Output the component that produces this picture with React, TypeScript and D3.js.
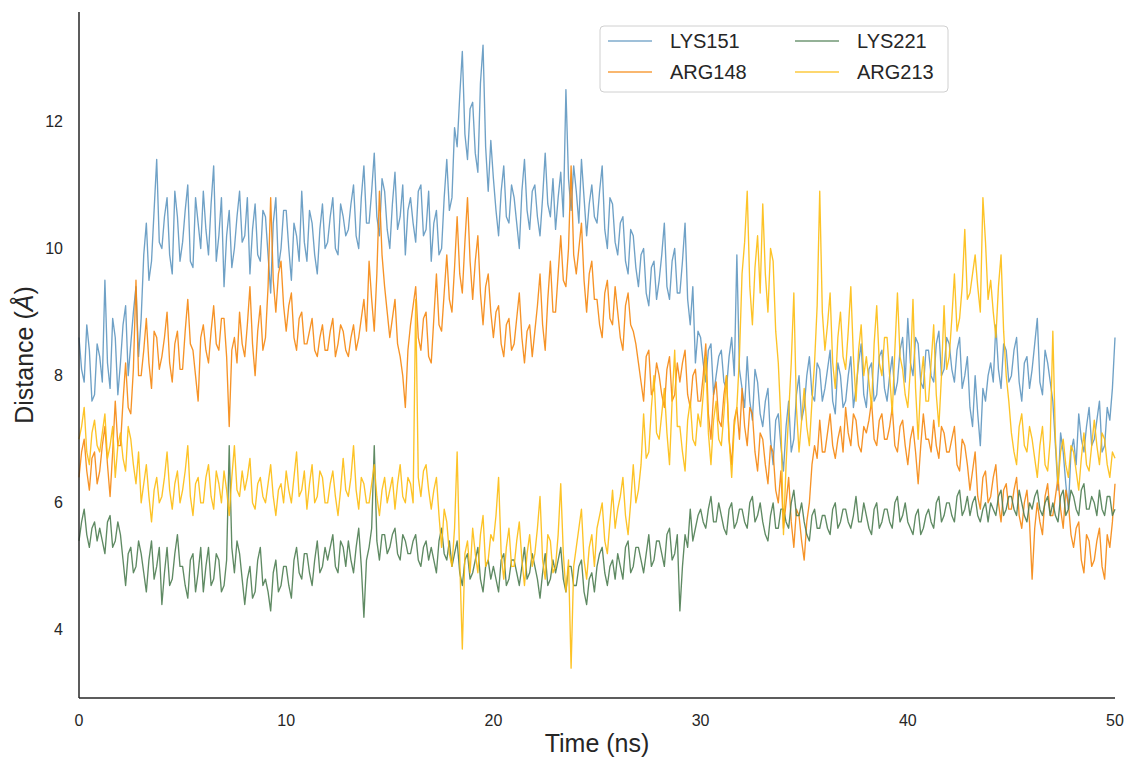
import React from "react";
import * as d3 from "d3";

// Sampling: one value every 0.125 ns from 0 to 50 ns
const timeNs: number[] = d3.range(0, 50.0001, 0.125);

const lys151: number[] = [
  8.6, 8.1, 7.9, 8.8, 8.4, 7.6, 7.7, 8.5,
  8.3, 7.9, 9.5, 8.2, 7.8, 8.9, 8.6, 7.7,
  8.2, 8.8, 9.1, 8.0, 8.5, 9.0, 9.4, 8.3,
  8.9, 9.9, 10.4, 9.5, 9.8, 10.6, 11.4, 10.1,
  10.0, 10.5, 10.8, 9.9, 9.6, 10.9, 10.5, 9.8,
  10.1, 10.6, 11.0, 9.8, 9.7, 10.8, 10.4, 10.0,
  10.9, 10.3, 9.9, 10.7, 11.3, 9.8, 10.2, 10.8,
  9.4, 10.2, 10.6, 9.7, 10.0, 10.5, 10.9, 10.1,
  10.2, 10.8, 9.6, 10.3, 10.7, 9.9, 9.8, 10.6,
  10.5, 9.9, 9.3, 10.4, 10.8, 9.7, 10.0, 10.6,
  10.6, 10.0, 9.5, 10.4, 10.2, 9.8, 10.9, 10.1,
  9.8, 10.6, 10.4, 9.9, 9.6, 10.3, 10.7, 10.0,
  10.1, 10.5, 10.8, 10.0, 9.9, 10.7, 10.5, 10.2,
  10.3, 10.7, 11.0, 10.2, 10.0, 10.8, 11.3, 10.4,
  10.4, 10.9, 11.5, 10.5, 10.2, 11.1, 10.9, 10.3,
  10.0, 10.7, 11.2, 10.3, 10.5, 11.0, 9.9, 10.6,
  10.8, 10.4, 10.1, 10.9, 11.0, 10.2, 10.3, 10.9,
  9.8, 10.4, 10.6, 9.9, 10.0, 10.8, 11.4, 10.6,
  10.8, 11.9, 11.6, 12.4, 13.1, 11.8, 11.4, 12.2,
  12.3, 11.5, 11.2, 12.6, 13.2, 11.6, 10.9, 11.7,
  11.1, 10.6, 10.2, 10.9, 11.3, 10.5, 10.4, 11.0,
  10.8, 10.4, 10.0, 10.9, 11.4, 10.6, 10.3, 10.9,
  11.0, 10.5, 10.2, 10.8, 11.5, 10.7, 10.5, 11.1,
  10.3, 10.8, 11.2, 10.5, 12.5, 11.1, 10.6, 11.3,
  10.9, 10.4, 11.4, 10.8, 10.2, 10.7, 11.0, 10.5,
  10.4, 10.9, 11.3, 10.3, 10.0, 10.8, 10.7, 10.1,
  9.9, 10.4, 10.5, 9.8, 9.6, 10.3, 10.2, 9.7,
  9.4, 9.9, 10.0, 9.3, 9.1, 9.7, 9.8, 9.2,
  9.5, 9.9, 10.4, 9.4, 9.2, 9.8, 10.0, 9.3,
  9.3, 9.8, 10.4, 9.2, 8.8, 9.4, 8.2, 8.7,
  8.6, 8.2, 7.9, 8.4, 8.5, 7.7, 8.0, 8.3,
  8.4, 7.9, 7.8, 8.3, 8.6, 8.0, 9.9, 8.1,
  7.8, 7.5, 8.3, 7.6, 7.3, 8.1, 7.9, 7.4,
  7.2, 7.6, 7.8, 7.0, 6.6, 7.3, 7.4, 6.9,
  6.5, 7.2, 7.6, 6.8, 7.0, 7.7, 8.0, 7.3,
  7.5, 8.0, 8.3, 7.7, 7.6, 8.2, 8.1, 7.6,
  7.8, 8.1, 8.4, 7.6, 7.4, 8.2, 8.0, 7.5,
  7.6, 8.0, 8.3, 7.5, 7.8, 8.2, 8.5, 7.7,
  7.5, 8.1, 8.2, 7.6, 7.7, 8.3, 8.4, 7.8,
  7.6, 8.0, 8.3, 7.7, 7.9, 8.4, 8.6, 7.9,
  8.9, 8.2, 8.0, 8.6, 8.5, 7.9, 7.8, 8.4,
  8.4, 8.0, 7.9, 8.5, 8.7, 8.0, 8.1, 8.6,
  8.5, 8.1, 7.9, 8.4, 8.6, 7.8, 8.0, 8.3,
  7.5, 7.2, 8.0, 7.4, 6.9, 7.8, 7.6, 8.0,
  8.2, 7.9, 8.8, 8.1, 7.8, 8.5, 8.4, 7.9,
  8.0, 8.4, 8.6, 7.9, 7.6, 8.2, 8.3, 7.8,
  8.1, 8.5, 8.9, 7.9, 7.7, 8.4, 8.2, 7.9,
  7.6, 6.9, 6.2, 7.1, 6.8, 6.3, 5.9, 6.8,
  7.0, 6.6, 7.4, 7.0, 6.8, 7.2, 7.5, 6.9,
  7.0, 7.3, 7.6, 6.8, 6.9, 7.5, 7.3, 7.8,
  8.6,
];

const arg148: number[] = [
  6.4, 6.8, 7.0, 6.5, 6.2, 6.7, 6.8, 6.3,
  6.5, 6.9, 7.2, 6.6, 6.1, 6.8, 7.6, 6.9,
  6.9, 7.6, 8.2, 7.5, 7.4, 8.1, 9.5, 8.0,
  8.0, 8.4, 8.9, 8.2, 7.8, 8.7, 8.6, 8.1,
  8.3, 8.6, 9.0, 8.2, 7.9, 8.5, 8.7, 8.1,
  8.1, 8.7, 9.2, 8.5, 8.4, 8.0, 7.6, 8.6,
  8.8, 8.4, 8.2, 8.7, 9.1, 8.5, 8.4, 8.9,
  8.9, 8.3, 7.2, 8.4, 8.6, 8.2, 9.0, 8.5,
  8.3, 8.8, 9.4, 8.5, 8.0, 8.7, 9.1, 8.4,
  8.6, 9.4, 10.8, 9.5, 9.0, 9.6, 9.8, 9.1,
  8.7, 9.1, 9.3, 8.6, 8.4, 8.9, 9.0, 8.5,
  8.5, 8.7, 8.9, 8.4, 8.3, 8.6, 8.8, 8.4,
  8.4, 8.7, 8.9, 8.3, 8.5, 8.8, 8.7, 8.4,
  8.3, 8.6, 8.8, 8.4, 8.6, 8.9, 9.2, 8.7,
  9.8, 9.2, 8.7, 9.6, 10.9, 9.9, 9.4, 9.0,
  8.6, 8.9, 9.2, 8.5, 8.3, 8.0, 7.5, 8.4,
  8.8, 9.1, 9.4, 8.6, 8.4, 8.9, 9.0, 8.3,
  8.2, 8.9, 9.6, 8.8, 8.7, 9.3, 9.9, 9.2,
  9.0, 9.7, 10.5, 9.6, 9.3, 10.1, 10.8, 9.8,
  9.2, 9.8, 10.2, 9.3, 8.8, 9.4, 9.6, 9.0,
  8.6, 9.0, 9.1, 8.5, 8.3, 8.8, 8.9, 8.4,
  8.5, 8.9, 9.3, 8.6, 8.2, 8.7, 8.8, 8.3,
  8.7, 9.1, 9.6, 8.8, 8.4, 9.2, 9.8, 9.0,
  9.0, 9.6, 10.2, 9.5, 9.4, 10.0, 11.3, 9.9,
  9.6, 10.0, 10.4, 9.5, 9.0, 9.6, 9.8, 9.2,
  9.2, 8.8, 8.6, 9.3, 9.5, 8.9, 8.8, 9.4,
  9.0, 8.6, 8.4, 9.1, 9.3, 8.8, 8.7, 8.5,
  8.2, 7.9, 7.6, 8.3, 8.4, 7.7, 7.8, 8.2,
  8.0, 7.7, 7.5, 8.1, 8.3, 7.6, 7.7, 8.2,
  7.9, 8.2, 8.4, 7.7, 7.5, 8.0, 8.1, 7.6,
  7.6, 8.0, 8.5, 7.4, 7.0, 7.7, 7.9, 7.3,
  7.2, 7.7, 8.0, 7.0, 6.6, 7.3, 7.5, 7.0,
  7.8, 7.2, 6.9, 7.5, 7.4, 6.8, 6.5, 7.1,
  7.0, 6.6, 6.3, 6.9, 6.8, 6.2, 6.0, 6.5,
  5.6, 6.0, 6.4, 5.7, 5.3, 5.9, 5.8, 5.4,
  5.1, 5.7, 6.0, 6.6, 6.9, 6.7, 7.3, 6.8,
  6.8, 7.1, 7.4, 6.9, 6.7, 7.0, 7.2, 6.8,
  7.5, 7.1, 6.9, 7.4, 7.3, 6.9, 6.8, 7.2,
  7.1, 7.3, 7.6, 7.0, 6.9, 7.3, 7.4, 7.0,
  7.0, 7.2, 7.5, 6.9, 6.8, 7.2, 7.3, 6.9,
  6.6, 7.0, 7.2, 6.8, 6.3, 6.9, 7.4, 7.0,
  7.0, 6.8, 7.3, 6.9, 6.7, 7.2, 7.1, 6.8,
  6.8, 7.0, 7.2, 6.6, 6.5, 7.0, 6.9, 6.6,
  6.2, 6.5, 6.8, 6.1, 5.9, 6.4, 6.5, 6.0,
  6.1, 6.4, 6.6, 6.0, 5.7, 6.2, 6.3, 5.9,
  5.9, 6.2, 6.4, 5.8, 5.6, 6.0, 6.2, 5.7,
  4.8, 5.6, 6.0, 5.7, 5.5, 6.1, 6.3, 5.8,
  5.8, 6.1, 6.4, 5.9, 5.6, 6.2, 6.0, 5.5,
  5.3, 5.6, 5.7, 5.1, 4.9, 5.5, 5.4, 5.0,
  5.1, 5.4, 5.6, 5.0, 4.8, 5.5, 5.3, 5.7,
  6.3,
];

const lys221: number[] = [
  5.4, 5.7, 5.9, 5.5, 5.3, 5.6, 5.7, 5.4,
  5.6, 5.4, 5.2, 5.7, 5.8, 5.3, 5.4, 5.7,
  5.5, 5.1, 4.7, 5.2, 5.3, 4.9, 5.0, 5.4,
  5.2, 4.9, 4.6, 5.1, 5.4, 4.8, 5.0, 5.3,
  4.4, 4.9, 5.3, 4.7, 4.8, 5.2, 5.5, 5.0,
  5.0, 4.7, 4.5, 5.1, 5.2, 4.6, 4.9, 5.3,
  4.6, 5.0, 5.3, 4.7, 4.8, 5.2, 5.1, 4.6,
  4.7, 5.1, 6.9, 5.3, 4.9, 5.4, 5.2, 4.8,
  4.4, 4.8, 5.0, 4.5, 4.6, 5.1, 5.3, 4.7,
  4.8, 4.6, 4.3, 4.9, 5.1, 4.6, 4.7, 5.0,
  5.0, 4.7, 4.5, 5.1, 5.3, 4.9, 4.8, 5.2,
  5.2, 4.9, 4.7, 5.1, 5.4, 4.9, 5.0, 5.3,
  5.1, 5.3, 5.5, 5.0, 4.9, 5.4, 5.3, 5.0,
  5.4, 5.1, 4.9, 5.3, 5.6, 5.0, 4.2, 5.1,
  5.3, 5.6, 6.9, 5.4, 5.1, 5.5, 5.5, 5.2,
  5.3, 5.5, 5.6, 5.2, 5.1, 5.5, 5.4, 5.2,
  5.2, 5.4, 5.5, 5.1, 5.0, 5.3, 5.4, 5.1,
  5.3, 5.1, 4.9, 5.4, 5.6, 5.2, 5.1, 5.4,
  5.0, 5.2, 5.4, 4.9, 4.7, 5.1, 5.2, 4.8,
  4.9, 5.1, 5.3, 4.8, 4.6, 5.0, 5.1, 4.8,
  5.0, 4.8, 4.6, 5.1, 5.2, 4.7, 4.8, 5.1,
  5.1, 4.9, 4.7, 5.0, 5.3, 4.8, 4.9, 5.2,
  5.0, 4.8, 4.5, 4.9, 5.2, 4.7, 4.8, 5.1,
  4.9, 5.1, 5.3, 4.8, 4.6, 5.0, 5.0, 4.7,
  4.7, 5.0, 5.1, 4.6, 4.4, 4.8, 4.9, 4.6,
  5.0, 5.2, 5.3, 4.9, 4.7, 5.0, 5.1, 4.8,
  5.2, 5.0, 4.8, 5.3, 5.4, 4.9, 5.0, 5.3,
  5.3, 5.1, 4.9, 5.2, 5.5, 5.0, 5.1, 5.4,
  5.4, 5.2, 5.0, 5.5, 5.6, 5.1, 5.2, 5.5,
  4.3, 5.0, 5.5, 5.3, 5.9, 5.4, 5.6, 5.8,
  5.9, 5.7, 5.6, 5.9, 6.1, 5.7, 5.7, 6.0,
  5.8, 5.6, 5.5, 5.9, 6.0, 5.6, 5.7, 5.9,
  5.9, 5.7, 5.6, 6.0, 6.1, 5.7, 5.8, 6.0,
  5.7, 5.5, 5.4, 5.8, 6.0, 5.6, 5.6, 5.9,
  5.9, 5.7, 5.6, 6.0, 6.2, 5.8, 5.8, 6.0,
  5.7, 5.5, 5.4, 5.8, 5.9, 5.6, 5.6, 5.8,
  5.8, 5.6, 5.5, 5.9, 6.0, 5.6, 5.7, 5.9,
  5.9, 5.7, 5.6, 5.8, 6.1, 5.7, 5.7, 6.0,
  5.8, 5.6, 5.5, 5.9, 6.0, 5.6, 5.7, 5.9,
  5.9, 5.7, 5.6, 6.0, 6.1, 5.7, 5.8, 6.0,
  5.7, 5.6, 5.5, 5.8, 5.9, 5.5, 5.6, 5.8,
  5.9, 5.7, 5.6, 6.0, 6.1, 5.7, 5.8, 6.0,
  6.0, 5.8, 5.7, 6.1, 6.2, 5.8, 5.9, 6.1,
  5.8, 6.0, 6.1, 5.8, 5.7, 5.9, 6.0, 5.7,
  6.0, 5.9, 5.8, 6.1, 6.2, 5.8, 5.9, 6.1,
  6.1, 5.9, 5.8, 6.2, 6.0, 5.8, 5.7, 6.0,
  5.9, 6.1, 6.2, 5.9, 5.8, 6.0, 6.1, 5.8,
  6.0, 5.8, 5.7, 6.1, 6.2, 5.8, 5.9, 6.2,
  6.1, 5.9, 5.8, 6.2, 6.3, 5.9, 5.9, 6.1,
  6.0, 5.8, 6.2, 5.9, 5.8, 6.1, 6.1, 5.8,
  5.9,
];

const arg213: number[] = [
  7.0, 7.2, 7.5, 6.8, 6.6, 7.1, 7.3, 6.9,
  6.8, 7.1, 7.4, 6.7, 6.9, 7.2, 6.4, 6.9,
  7.1, 6.7, 6.5, 7.2, 7.0, 6.6, 6.3, 6.8,
  6.0, 6.3, 6.6, 6.1, 5.7, 6.2, 6.4, 6.0,
  6.1, 6.4, 6.8, 6.2, 5.9, 6.3, 6.5, 6.0,
  6.2, 6.5, 6.9, 6.1, 5.8, 6.3, 6.4, 6.0,
  6.0, 6.4, 6.6, 6.1, 5.9, 6.5, 6.3, 6.0,
  6.5, 6.2, 5.8, 6.4, 6.9, 6.2, 6.1, 6.5,
  6.2, 6.4, 6.7, 6.0, 5.9, 6.3, 6.4, 6.1,
  6.0, 6.3, 6.6, 6.1, 5.8, 6.2, 6.3, 6.0,
  6.5, 6.2, 6.0, 6.4, 6.8, 6.1, 6.2, 6.5,
  5.9, 6.3, 6.6, 6.0, 6.1, 6.5, 6.4, 6.0,
  6.0, 6.3, 6.5, 6.1, 5.8, 6.2, 6.7, 6.2,
  6.1, 6.4, 6.9, 6.2, 5.9, 6.4, 6.3, 6.0,
  6.0, 6.3, 6.6, 6.1, 5.8, 6.2, 6.4, 6.0,
  6.2, 6.4, 5.9, 6.3, 6.6, 6.1, 6.0, 6.4,
  6.3, 6.0, 9.2, 6.4, 6.1, 6.5, 6.6, 6.2,
  5.9, 6.2, 6.4, 5.8, 5.3, 5.9, 5.7, 5.2,
  5.0, 5.6, 6.8, 5.1, 3.7, 5.2, 5.4, 4.9,
  5.6, 5.2, 4.9, 5.5, 5.8, 5.0, 5.1, 5.5,
  5.4, 5.8, 6.4, 5.2, 4.8, 5.3, 5.6, 5.0,
  5.0, 5.4, 5.7, 5.1, 4.7, 5.2, 5.5, 5.0,
  5.2, 5.6, 6.1, 5.1, 4.8, 5.5, 5.4, 4.9,
  5.0, 5.5, 6.3, 5.2, 4.6, 5.1, 3.4, 5.0,
  5.3, 5.6, 5.9, 5.1, 4.8, 5.3, 5.5, 5.0,
  5.6, 5.8, 6.0, 5.4, 5.2, 5.7, 6.2, 5.6,
  5.9, 6.1, 6.4, 5.8, 5.5, 6.0, 6.6, 6.0,
  6.2, 6.6, 7.4, 6.7, 6.8, 7.5, 8.0, 7.1,
  7.0, 7.4, 7.8, 7.1, 6.6, 7.6, 8.4, 7.2,
  7.2, 6.8, 6.5, 7.3, 7.6, 7.0, 6.9, 7.4,
  7.2, 7.7, 8.3, 7.1, 6.6, 7.3, 7.6, 7.0,
  6.9, 7.4, 8.0, 7.0, 6.4, 7.2, 7.5, 8.3,
  9.6, 10.1, 10.9, 9.4, 8.8, 9.7, 10.2, 9.3,
  10.7, 9.6, 9.0, 10.0, 9.8, 8.7, 8.2, 7.3,
  5.5, 6.6, 7.4, 8.2, 9.3, 7.5, 6.8, 7.3,
  7.8, 7.2, 6.9, 7.6, 8.2, 9.1, 10.9, 9.0,
  8.4, 8.8, 9.3, 8.2, 7.8, 8.6, 9.0, 8.3,
  8.1, 8.7, 9.4, 8.3, 7.6, 8.4, 8.8, 8.0,
  8.3, 7.9, 7.5, 8.5, 9.1, 8.2, 8.0, 8.6,
  8.6, 8.0, 7.4, 8.4, 9.3, 8.3, 8.1, 7.7,
  7.5, 8.1, 9.2, 7.8, 7.0, 7.9, 8.3, 7.6,
  7.6, 8.2, 8.8, 7.7, 7.2, 8.0, 9.1, 8.1,
  8.3, 8.9, 9.6, 8.7, 8.9, 9.4, 10.3, 9.2,
  9.3, 9.6, 9.9, 9.4, 9.0, 10.8, 10.1, 9.2,
  9.5, 9.0, 8.6, 9.4, 9.9, 8.7, 8.0, 7.6,
  7.1, 6.8, 6.6, 7.2, 7.4, 6.9, 6.8, 7.2,
  7.0, 6.7, 6.4, 6.9, 7.2, 6.6, 6.5, 7.0,
  8.7, 7.0, 6.3, 6.8, 7.0, 6.6, 6.4, 6.9,
  6.8, 6.5, 6.2, 6.7, 7.1, 6.6, 6.5, 6.9,
  7.3, 6.9, 6.6, 7.1, 7.0, 6.6, 6.4, 6.8,
  6.7,
];

const seriesNames: string[] = ["LYS151", "ARG148", "LYS221", "ARG213"];
const seriesColors: string[] = ["#5f97c0", "#f5870f", "#4e7d52", "#fdbd10"];
const seriesValues: number[][] = [lys151, arg148, lys221, arg213];

const xTicks: number[] = [0, 10, 20, 30, 40, 50];
const yTicks: number[] = [4, 6, 8, 10, 12];

const W = 1128;
const H = 758;
const M = { left: 79, right: 13, top: 12, bottom: 60 };

export default function App() {
  const x = d3.scaleLinear().domain([0, 50]).range([M.left, W - M.right]);
  const y = d3.scaleLinear().domain([2.93, 13.72]).range([H - M.bottom, M.top]);
  const line = d3
    .line<number>()
    .x((_, i) => x(timeNs[i]))
    .y((d) => y(d));

  const font = "'Liberation Sans', Arial, Helvetica, sans-serif";
  const textColor = "#262626";

  // legend layout: column-major (matplotlib ncol=2)
  const legendItems = [
    { name: seriesNames[0], color: seriesColors[0], col: 0, row: 0 },
    { name: seriesNames[1], color: seriesColors[1], col: 0, row: 1 },
    { name: seriesNames[2], color: seriesColors[2], col: 1, row: 0 },
    { name: seriesNames[3], color: seriesColors[3], col: 1, row: 1 },
  ];

  return (
    <svg
      width={W}
      height={H}
      style={{ position: "absolute", left: 0, top: 0, background: "#fff" }}
      fontFamily={font}
    >
      <rect x={0} y={0} width={W} height={H} fill="#fff" />
      <g>
        {seriesValues.map((vals, k) => (
          <path
            key={seriesNames[k]}
            d={line(vals) || ""}
            fill="none"
            stroke={seriesColors[k]}
            strokeWidth={1.35}
            strokeOpacity={0.9}
            strokeLinejoin="round"
          />
        ))}
      </g>
      {/* axes spines */}
      <line x1={M.left} x2={M.left} y1={M.top} y2={H - M.bottom} stroke="#262626" strokeWidth={1.5} />
      <line x1={M.left} x2={W - M.right} y1={H - M.bottom} y2={H - M.bottom} stroke="#262626" strokeWidth={1.5} />
      {xTicks.map((t) => (
        <text key={"x" + t} x={x(t)} y={726} textAnchor="middle" fontSize={16} fill={textColor}>
          {t}
        </text>
      ))}
      {yTicks.map((t) => (
        <text key={"y" + t} x={63} y={y(t) + 5.5} textAnchor="end" fontSize={16} fill={textColor}>
          {t}
        </text>
      ))}
      <text x={(M.left + W - M.right) / 2} y={752} textAnchor="middle" fontSize={25} fill={textColor}>
        Time (ns)
      </text>
      <text
        transform={`translate(33, ${(M.top + H - M.bottom) / 2}) rotate(-90)`}
        textAnchor="middle"
        fontSize={25}
        fill={textColor}
      >
        Distance (<tspan fontStyle="italic">Å</tspan>)
      </text>
      {/* legend */}
      <g>
        <rect x={600} y={26} width={348} height={66} rx={4} fill="#fff" fillOpacity={0.85} stroke="#d0d0d0" strokeWidth={1} />
        {legendItems.map((it) => {
          const lx = 608 + it.col * 187;
          const ly = 41 + it.row * 31;
          return (
            <g key={it.name}>
              <line x1={lx} x2={lx + 44} y1={ly} y2={ly} stroke={it.color} strokeWidth={1.3} strokeOpacity={0.8} />
              <text x={lx + 62} y={ly + 7} fontSize={20} fill={textColor}>
                {it.name}
              </text>
            </g>
          );
        })}
      </g>
    </svg>
  );
}
